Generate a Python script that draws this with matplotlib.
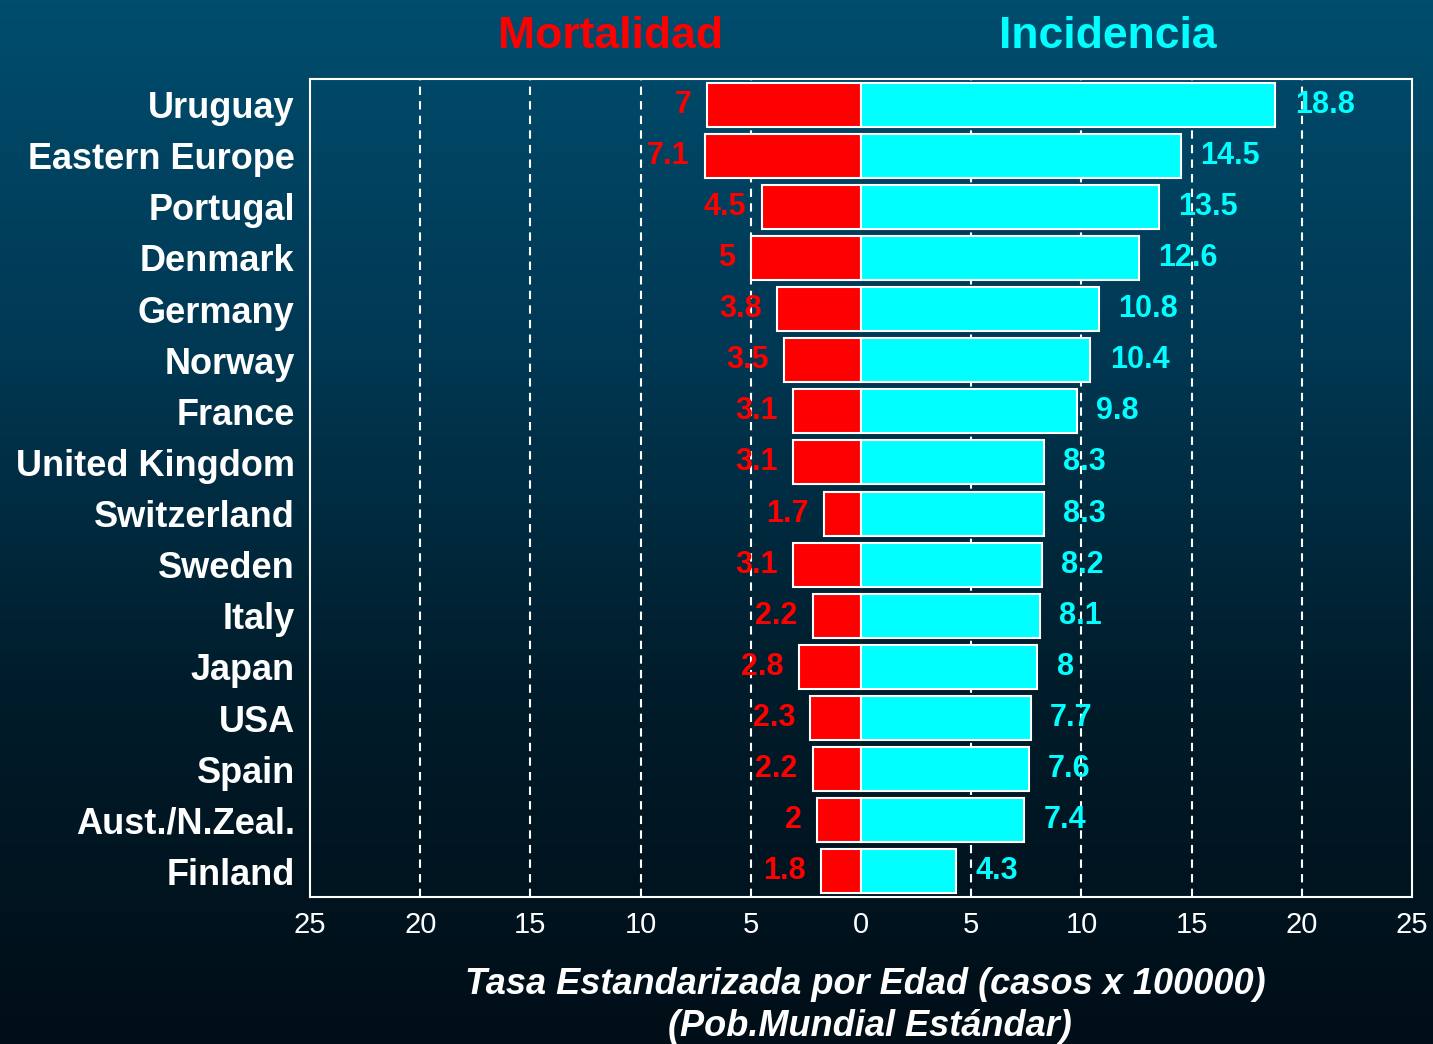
import numpy as np
import matplotlib
matplotlib.use('Agg')
import matplotlib.pyplot as plt
from matplotlib.colors import LinearSegmentedColormap

countries = ['Uruguay', 'Eastern Europe', 'Portugal', 'Denmark', 'Germany',
             'Norway', 'France', 'United Kingdom', 'Switzerland', 'Sweden',
             'Italy', 'Japan', 'USA', 'Spain', 'Aust./N.Zeal.', 'Finland']
mortalidad = [7, 7.1, 4.5, 5, 3.8, 3.5, 3.1, 3.1, 1.7, 3.1,
              2.2, 2.8, 2.3, 2.2, 2, 1.8]
incidencia = [18.8, 14.5, 13.5, 12.6, 10.8, 10.4, 9.8, 8.3, 8.3, 8.2,
              8.1, 8, 7.7, 7.6, 7.4, 4.3]
xticks = [-25, -20, -15, -10, -5, 0, 5, 10, 15, 20, 25]
grid_x = [-20, -15, -10, -5, 5, 10, 15, 20]

RED = '#ff0000'
CYAN = '#00ffff'
BOLD = ['Liberation Sans', 'DejaVu Sans']

fig = plt.figure(figsize=(14.33, 10.44), dpi=100)

# background gradient: dark teal-blue at top fading to near black
bg = fig.add_axes([0, 0, 1, 1], zorder=-10)
cmap = LinearSegmentedColormap.from_list(
    'bg', ['#004d6e', '#003853', '#001c2a', '#000e17'])
bg.imshow(np.linspace(0, 1, 256).reshape(-1, 1), aspect='auto', cmap=cmap,
          extent=[0, 1, 0, 1])
bg.axis('off')

ax = fig.add_axes([310 / 1433, 147 / 1044, 1102 / 1433, 818 / 1044])
ax.set_facecolor('none')

y = np.arange(len(countries))
for gx in grid_x:
    ax.axvline(gx, color='white', lw=1.5, ls=(0, (4, 3)), zorder=1)

ax.barh(y, [-m for m in mortalidad], height=0.86, color=RED,
        edgecolor='white', lw=1.5, zorder=3)
ax.barh(y, incidencia, height=0.86, color=CYAN,
        edgecolor='white', lw=1.5, zorder=3)

for yi, m, inc in zip(y, mortalidad, incidencia):
    ax.annotate(f'{m:g}', (-m, yi), xytext=(-11, 0),
                textcoords='offset points', ha='right', va='center',
                color=RED, fontsize=22, fontweight='bold', family=BOLD,
                zorder=4)
    ax.annotate(f'{inc:g}', (inc, yi), xytext=(14, 0),
                textcoords='offset points', ha='left', va='center',
                color=CYAN, fontsize=22, fontweight='bold', family=BOLD,
                zorder=4)

ax.set_xlim(-25, 25)
ax.set_ylim(15.5, -0.5)
ax.set_xticks(xticks)
ax.set_xticklabels([str(abs(t)) for t in xticks], color='white',
                   fontsize=21, family=BOLD)
ax.set_yticks(y)
ax.set_yticklabels(countries, color='white', fontsize=26,
                   fontweight='bold', family=BOLD)
ax.tick_params(axis='both', length=0)
ax.tick_params(axis='x', pad=10)
ax.tick_params(axis='y', pad=11)
for sp in ax.spines.values():
    sp.set_color('white')
    sp.set_linewidth(1.5)

fig.text(611 / 1433, 1 - 37 / 1044, 'Mortalidad', color=RED, fontsize=32,
         fontweight='bold', family=BOLD, ha='center', va='center')
fig.text(1108 / 1433, 1 - 37 / 1044, 'Incidencia', color=CYAN, fontsize=32,
         fontweight='bold', family=BOLD, ha='center', va='center')

fig.text(865 / 1433, 1 - 985 / 1044,
         'Tasa Estandarizada por Edad (casos x 100000)', color='white',
         fontsize=26, fontweight='bold', fontstyle='italic', family=BOLD,
         ha='center', va='center')
fig.text(870 / 1433, 1 - 1026 / 1044, '(Pob.Mundial Estándar)',
         color='white', fontsize=26, fontweight='bold', fontstyle='italic',
         family=BOLD, ha='center', va='center')

fig.savefig('out.png', dpi=100)
